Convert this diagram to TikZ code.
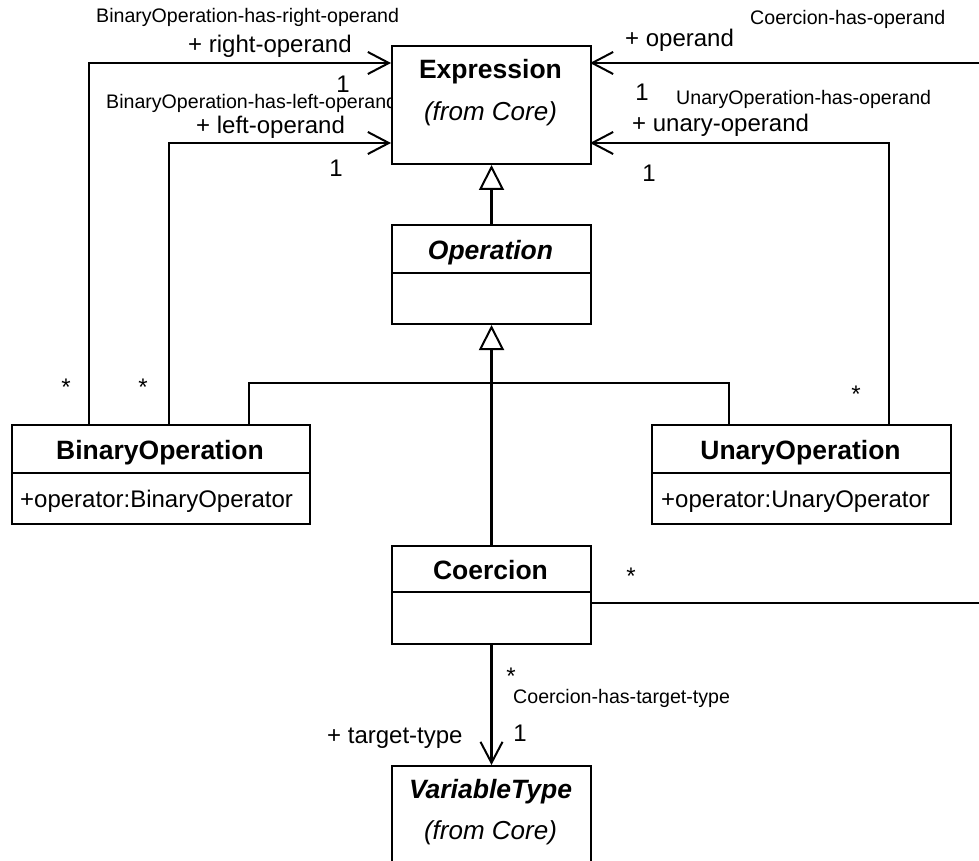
\documentclass[tikz,border=0pt]{standalone}
\usepackage{fontspec}
\setmainfont{Liberation Sans}
\usetikzlibrary{arrows.meta}
\newcommand\fTitle{\fontsize{26.5}{30}\selectfont\bfseries}
\newcommand\fTitleIt{\fontsize{26.5}{30}\selectfont\bfseries\itshape}
\newcommand\fSub{\fontsize{26}{30}\selectfont\itshape}
\newcommand\fRole{\fontsize{24}{28}\selectfont}
\newcommand\fAssoc{\fontsize{19.6}{22}\selectfont}
\tikzset{
  umlbox/.style={draw, line width=2pt, fill=white, inner sep=0pt, anchor=north west},
  txt/.style={inner sep=0pt},
  divider/.style={line width=2pt},
  assoc/.style={line width=2pt, -{Straight Barb[length=21pt, width=22pt, line width=2pt]}},
  assocplain/.style={line width=2pt},
  gen/.style={line width=3.3pt, -{Triangle[length=25pt, width=25pt, fill=white, line width=2pt]}},
  nav/.style={line width=3.3pt, -{Straight Barb[length=21pt, width=22pt, line width=2pt]}},
}
\begin{document}
\begin{tikzpicture}[x=1pt,y=-1pt]
\useasboundingbox (0,0) rectangle (979,861);

% association labels (drawn first so boxes cover them)
\node[txt, anchor=base west, font=\fAssoc] (lRname) at (96,23) {BinaryOperation-has-right-operand};
\node[txt, anchor=base west, font=\fRole] (lRrole) at (188,53) {+ right-operand};
\node[txt, anchor=base, font=\fRole] (lRone) at (343,93) {1};
\node[txt, anchor=base west, font=\fAssoc] (lLname) at (106,109) {BinaryOperation-has-left-operand};
\node[txt, anchor=base west, font=\fRole] (lLrole) at (196,134) {+ left-operand};
\node[txt, anchor=base, font=\fRole] (lLone) at (336,177) {1};
\node[txt, anchor=base west, font=\fAssoc] (lCname) at (750,25) {Coercion-has-operand};
\node[txt, anchor=base west, font=\fRole] (lCrole) at (625,47) {+ operand};
\node[txt, anchor=base, font=\fRole] (lCone) at (642,101) {1};
\node[txt, anchor=base west, font=\fAssoc] (lUname) at (676,105) {UnaryOperation-has-operand};
\node[txt, anchor=base west, font=\fRole] (lUrole) at (632,132) {+ unary-operand};
\node[txt, anchor=base, font=\fRole] (lUone) at (649,182) {1};
\node[txt, anchor=base west, font=\fAssoc] (lTname) at (513,703) {Coercion-has-target-type};
\node[txt, anchor=base, font=\fRole] (lTone) at (520,741) {1};
\node[txt, anchor=base west, font=\fRole] (lTrole) at (327,743) {+ target-type};
\node[txt, anchor=base, font=\fRole] (s1) at (66,395) {*};
\node[txt, anchor=base, font=\fRole] (s2) at (143,395) {*};
\node[txt, anchor=base, font=\fRole] (s3) at (856,402) {*};
\node[txt, anchor=base, font=\fRole] (s4) at (631,584) {*};
\node[txt, anchor=base, font=\fRole] (s5) at (511,684) {*};

% class boxes
\node[umlbox, minimum width=199pt, minimum height=118pt] (expr) at (391,45) {};
\node[txt, anchor=base, font=\fTitle] (exprT) at (490.5,79) {Expression};
\node[txt, anchor=base, font=\fSub] (exprS) at (490.5,121) {(from Core)};

\node[umlbox, minimum width=199pt, minimum height=99pt] (oper) at (391,224) {};
\draw[divider] (391,273) -- (590,273);
\node[txt, anchor=base, font=\fTitleIt] (operT) at (490.5,259) {Operation};

\node[umlbox, minimum width=298pt, minimum height=99pt] (binop) at (11,424) {};
\draw[divider] (11,473) -- (309,473);
\node[txt, anchor=base, font=\fTitle] (binopT) at (160,459) {BinaryOperation};
\node[txt, anchor=base west, font=\fRole] (binopA) at (20,507) {+operator:BinaryOperator};

\node[umlbox, minimum width=299pt, minimum height=99pt] (unop) at (651,424) {};
\draw[divider] (651,473) -- (950,473);
\node[txt, anchor=base, font=\fTitle] (unopT) at (800.5,459) {UnaryOperation};
\node[txt, anchor=base west, font=\fRole] (unopA) at (661,507) {+operator:UnaryOperator};

\node[umlbox, minimum width=199pt, minimum height=98pt] (coer) at (391,545) {};
\draw[divider] (391,592) -- (590,592);
\node[txt, anchor=base, font=\fTitle] (coerT) at (490.5,579) {Coercion};

\node[umlbox, minimum width=199pt, minimum height=130pt] (vtype) at (391,765) {};
\node[txt, anchor=base, font=\fTitleIt] (vtypeT) at (490.5,798) {VariableType};
\node[txt, anchor=base, font=\fSub] (vtypeS) at (490.5,839) {(from Core)};

% connector end points
\coordinate (bR) at (89,424);
\coordinate (bL) at (169,424);
\coordinate (bG) at (249,424);
\coordinate (uU) at (889,424);
\coordinate (uG) at (729,424);
\coordinate (eR) at (391,63);
\coordinate (eL) at (391,143);
\coordinate (eC) at (590,63);
\coordinate (eU) at (590,143);
\coordinate (cR) at (590,603);
\coordinate (offA) at (995,603);
\coordinate (offB) at (995,63);
\coordinate (junc) at (490.5,383);

% associations
\draw[assoc] (bR) |- (eR);
\draw[assoc] (bL) |- (eL);
\draw[assoc] (uU) |- (eU);
\draw[assoc] (cR) -- (offA) -- (offB) -- (eC);
\draw[nav] (coer.south) -- (vtype.north);

% generalizations
\draw[gen] (oper.north) -- (expr.south);
\draw[gen] (coer.north) -- (oper.south);
\draw[assocplain] (bG) |- (junc) -| (uG);
\end{tikzpicture}
\end{document}
